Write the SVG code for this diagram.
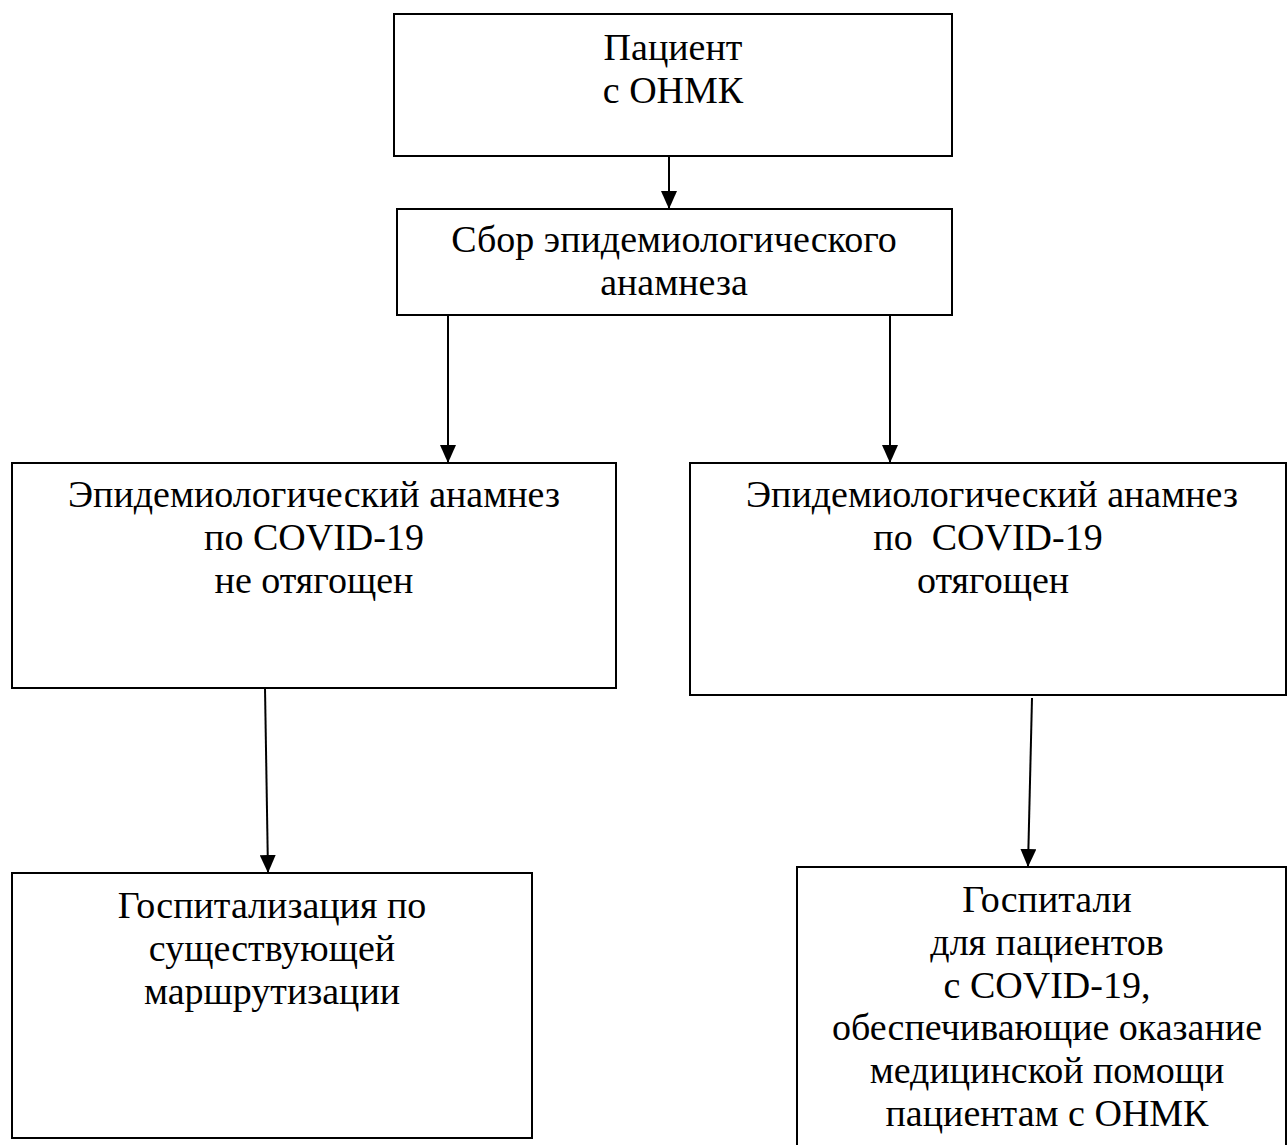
<svg xmlns="http://www.w3.org/2000/svg" width="1287" height="1145" viewBox="0 0 1287 1145">
<style>
.box{fill:#fff;stroke:#000;stroke-width:2}
.t{font-family:"Times New Roman",Times,"Liberation Serif",Tinos,"Noto Serif","DejaVu Serif",serif;font-size:38px;fill:#000;text-anchor:middle}
.c{stroke:#000;stroke-width:2;fill:none;marker-end:url(#ah)}
</style>
<defs>
<marker id="ah" markerUnits="userSpaceOnUse" markerWidth="18" markerHeight="16" refX="17" refY="8" orient="auto" viewBox="0 0 18 16">
<path d="M0,0 L18,8 L0,16 Z" fill="#000"/>
</marker>
</defs>
<rect width="1287" height="1145" fill="#fff"/>
<g id="connectors">
<line class="c" x1="669" y1="156" x2="669" y2="208"/>
<line class="c" x1="448" y1="315" x2="448" y2="462"/>
<line class="c" x1="890" y1="315" x2="890" y2="462"/>
<line class="c" x1="265" y1="688" x2="268" y2="872"/>
<line class="c" x1="1032" y1="698" x2="1028" y2="866"/>
</g>
<g id="n1">
<rect class="box" x="394" y="14" width="558" height="142"/>
<text class="t" x="673" y="60">Пациент</text>
<text class="t" x="673" y="103">с ОНМК</text>
</g>
<g id="n2">
<rect class="box" x="397" y="209" width="555" height="106"/>
<text class="t" x="674" y="252">Сбор эпидемиологического</text>
<text class="t" x="674" y="295">анамнеза</text>
</g>
<g id="n3">
<rect class="box" x="12" y="463" width="604" height="225"/>
<text class="t" x="314" y="507">Эпидемиологический анамнез</text>
<text class="t" x="314" y="550">по COVID-19</text>
<text class="t" x="314" y="593">не отягощен</text>
</g>
<g id="n4">
<rect class="box" x="690" y="463" width="596" height="232"/>
<text class="t" x="992" y="507">Эпидемиологический анамнез</text>
<text class="t" x="988" y="550" xml:space="preserve">по  COVID-19</text>
<text class="t" x="993" y="593">отягощен</text>
</g>
<g id="n5">
<rect class="box" x="12" y="873" width="520" height="265"/>
<text class="t" x="272" y="918">Госпитализация по</text>
<text class="t" x="272" y="961">существующей</text>
<text class="t" x="272" y="1004">маршрутизации</text>
</g>
<g id="n6">
<rect class="box" x="797" y="867" width="489" height="300"/>
<text class="t" x="1047" y="912">Госпитали</text>
<text class="t" x="1047" y="955">для пациентов</text>
<text class="t" x="1047" y="998">с COVID-19,</text>
<text class="t" x="1047" y="1040">обеспечивающие оказание</text>
<text class="t" x="1047" y="1083">медицинской помощи</text>
<text class="t" x="1047" y="1126">пациентам с ОНМК</text>
</g>
</svg>
